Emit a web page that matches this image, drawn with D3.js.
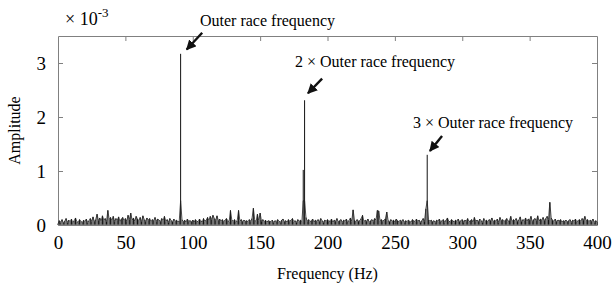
<!DOCTYPE html>
<html>
<head>
<meta charset="utf-8">
<script src="https://cdn.jsdelivr.net/npm/d3@7"></script>
<style>
  body { margin: 0; background: #fff; }
  text { font-family: "Liberation Serif", "Times New Roman", serif; fill: #000; }
</style>
</head>
<body>
<div id="chart"></div>
<script>
// amplitude spectrum, one value per Hz (0..400), in units of 1e-3
var amplitude = [
  0.02,0.08,0.05,0.10,0.04,0.07,0.12,0.05,0.09,0.06,0.11,0.04,0.08,0.13,0.06,0.05,0.10,0.07,0.04,0.09,
  0.06,0.11,0.05,0.08,0.12,0.07,0.15,0.06,0.10,0.20,0.08,0.13,0.07,0.17,0.09,0.12,0.06,0.27,0.10,0.14,
  0.08,0.16,0.07,0.12,0.09,0.15,0.06,0.11,0.14,0.08,0.12,0.07,0.18,0.10,0.22,0.09,0.13,0.07,0.16,0.11,
  0.08,0.14,0.06,0.17,0.10,0.07,0.13,0.09,0.12,0.06,0.10,0.08,0.14,0.07,0.11,0.09,0.06,0.12,0.08,0.16,
  0.07,0.10,0.05,0.12,0.08,0.06,0.11,0.07,0.09,0.05,0.08,3.17,0.10,0.06,0.09,0.05,0.11,0.07,0.08,0.06,
  0.09,0.05,0.10,0.07,0.06,0.11,0.08,0.05,0.12,0.07,0.09,0.14,0.08,0.16,0.10,0.18,0.12,0.09,0.17,0.08,
  0.11,0.07,0.10,0.06,0.09,0.12,0.08,0.06,0.27,0.09,0.07,0.10,0.06,0.08,0.27,0.07,0.10,0.06,0.09,0.07,
  0.08,0.06,0.10,0.07,0.12,0.31,0.09,0.06,0.20,0.08,0.22,0.07,0.10,0.06,0.09,0.05,0.08,0.07,0.06,0.09,
  0.05,0.08,0.06,0.10,0.07,0.05,0.09,0.11,0.06,0.08,0.05,0.10,0.07,0.09,0.12,0.06,0.08,0.05,0.10,0.07,
  0.09,0.06,1.02,2.31,0.14,0.07,0.10,0.06,0.08,0.11,0.05,0.09,0.07,0.10,0.06,0.12,0.08,0.05,0.09,0.07,
  0.10,0.06,0.08,0.11,0.05,0.09,0.07,0.12,0.06,0.08,0.10,0.05,0.09,0.07,0.11,0.06,0.08,0.13,0.07,0.28,
  0.09,0.06,0.10,0.07,0.08,0.12,0.18,0.06,0.09,0.07,0.11,0.05,0.08,0.10,0.07,0.12,0.09,0.27,0.26,0.08,
  0.10,0.07,0.09,0.12,0.24,0.08,0.06,0.10,0.07,0.09,0.05,0.11,0.08,0.06,0.09,0.07,0.10,0.05,0.08,0.06,
  0.09,0.07,0.05,0.10,0.08,0.06,0.11,0.07,0.09,0.05,0.08,0.12,0.07,0.30,1.30,0.10,0.07,0.09,0.06,0.08,
  0.05,0.09,0.07,0.11,0.06,0.08,0.10,0.05,0.09,0.13,0.07,0.06,0.10,0.08,0.05,0.09,0.07,0.11,0.06,0.08,
  0.10,0.05,0.09,0.07,0.12,0.06,0.08,0.10,0.05,0.14,0.07,0.09,0.06,0.11,0.08,0.05,0.12,0.07,0.09,0.06,
  0.10,0.08,0.13,0.06,0.09,0.07,0.11,0.05,0.14,0.08,0.10,0.06,0.09,0.12,0.07,0.08,0.16,0.06,0.10,0.08,
  0.12,0.07,0.09,0.15,0.06,0.10,0.08,0.13,0.07,0.11,0.09,0.16,0.06,0.10,0.12,0.08,0.17,0.07,0.11,0.09,
  0.14,0.08,0.12,0.16,0.10,0.42,0.13,0.09,0.07,0.11,0.06,0.09,0.08,0.10,0.05,0.08,0.07,0.09,0.06,0.08,
  0.10,0.05,0.09,0.07,0.11,0.06,0.08,0.10,0.07,0.12,0.09,0.16,0.08,0.10,0.06,0.09,0.07,0.11,0.05,0.08,
  0.06
];
var freqStart = 0;   // Hz of first value, 1 Hz step

var xTicks = [0, 50, 100, 150, 200, 250, 300, 350, 400];
var yTicks = [0, 1, 2, 3];

// annotations: label, arrow tail and tip (Hz, amplitude e-3)
var notes = [
  { label: "Outer race frequency", tail: [107, 3.56], tip: [95.5, 3.25] },
  { label: "2 \u00d7 Outer race frequency", tail: [196, 2.71], tip: [185.5, 2.44] },
  { label: "3 \u00d7 Outer race frequency", tail: [285, 1.65], tip: [276, 1.37] }
];
var labelPos = [[200, 26], [295, 67], [413, 128]];

var width = 613, height = 284;
var margin = { top: 36, right: 16, bottom: 59, left: 58 };
var w = width - margin.left - margin.right,
    h = height - margin.top - margin.bottom;

var svg = d3.select("#chart").append("svg")
    .attr("width", width)
    .attr("height", height);

var g = svg.append("g")
    .attr("transform", "translate(" + margin.left + "," + margin.top + ")");

var x = d3.scaleLinear().domain([0, 400]).range([0, w]);
var y = d3.scaleLinear().domain([0, 3.5]).range([h, 0]);

var frame = "#808080";

// axes with inward ticks
var axB = g.append("g").attr("transform", "translate(0," + h + ")")
    .call(d3.axisBottom(x).tickValues(xTicks).tickSizeInner(-5).tickSizeOuter(0).tickPadding(11));
var axT = g.append("g")
    .call(d3.axisTop(x).tickValues(xTicks).tickSizeInner(-5).tickSizeOuter(0).tickFormat(""));
var axL = g.append("g")
    .call(d3.axisLeft(y).tickValues(yTicks).tickFormat(d3.format("d"))
      .tickSizeInner(-5).tickSizeOuter(0).tickPadding(12));
var axR = g.append("g").attr("transform", "translate(" + w + ",0)")
    .call(d3.axisRight(y).tickValues(yTicks).tickSizeInner(-5).tickSizeOuter(0).tickFormat(""));

[axB, axT, axL, axR].forEach(function(a) {
  a.select(".domain").attr("stroke", frame);
  a.selectAll(".tick line").attr("stroke", frame);
  a.selectAll(".tick text")
    .style("font-family", "'Liberation Serif', serif")
    .style("font-size", "19px")
    .attr("fill", "#000");
});
// hide ticks at frame edges
g.selectAll(".tick").filter(function(d) { return d === 0 || d === 400; })
  .select("line").attr("stroke", "none");

// spectrum: thin stems per bin plus connecting line
g.append("g").selectAll("line")
    .data(amplitude)
    .enter()
    .append("line")
    .attr("x1", function(d, i) { return x(freqStart + i); })
    .attr("x2", function(d, i) { return x(freqStart + i); })
    .attr("y1", y(0))
    .attr("y2", function(d) { return y(d); })
    .attr("stroke", "#111")
    .attr("stroke-width", 1);

var line = d3.line()
    .x(function(d, i) { return x(freqStart + i); })
    .y(function(d) { return y(Math.min(d, 0.45)); });

g.append("path")
    .datum(amplitude)
    .attr("fill", "none")
    .attr("stroke", "#222")
    .attr("stroke-width", 0.8)
    .attr("d", line);

// redraw bottom frame on top
g.append("line")
    .attr("x1", 0).attr("x2", w).attr("y1", h).attr("y2", h)
    .attr("stroke", frame);

// arrows
svg.append("defs").append("marker")
    .attr("id", "head")
    .attr("viewBox", "0 0 10 10")
    .attr("refX", 9).attr("refY", 5)
    .attr("markerWidth", 4.2).attr("markerHeight", 4.2)
    .attr("orient", "auto")
    .append("path")
    .attr("d", "M0,0 L10,5 L0,10 Z")
    .attr("fill", "#111");

notes.forEach(function(n, i) {
  g.append("line")
    .attr("x1", x(n.tail[0])).attr("y1", y(n.tail[1]))
    .attr("x2", x(n.tip[0])).attr("y2", y(n.tip[1]))
    .attr("stroke", "#111")
    .attr("stroke-width", 2.4)
    .attr("marker-end", "url(#head)");
  svg.append("text")
    .attr("x", labelPos[i][0]).attr("y", labelPos[i][1])
    .style("font-size", "16px")
    .text(n.label);
});

// exponent label
var ex = svg.append("text").attr("x", 65).attr("y", 25).style("font-size", "18px");
ex.append("tspan").text("\u00d7 10");
ex.append("tspan").attr("dy", -8).style("font-size", "13px").text("-3");

// axis titles
svg.append("text")
    .attr("x", margin.left + w / 2).attr("y", 279)
    .attr("text-anchor", "middle")
    .style("font-size", "16px")
    .text("Frequency (Hz)");

svg.append("text")
    .attr("transform", "translate(20," + (margin.top + h / 2) + ") rotate(-90)")
    .attr("text-anchor", "middle")
    .style("font-size", "16px")
    .text("Amplitude");
</script>
</body>
</html>
